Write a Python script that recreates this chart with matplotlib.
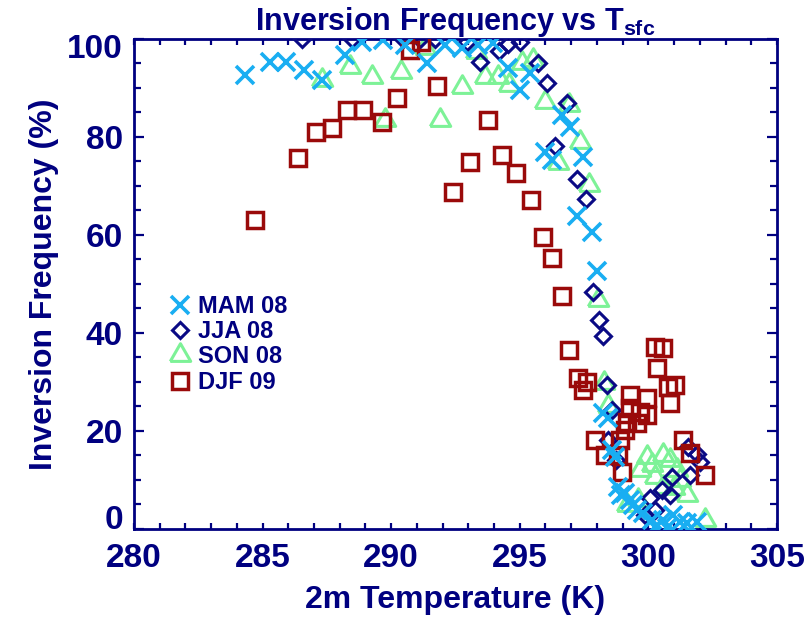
import matplotlib
matplotlib.use("Agg")
import matplotlib.pyplot as plt
import matplotlib.transforms as mtransforms
from matplotlib.ticker import MultipleLocator, FixedLocator

plt.rcParams['font.family'] = ['Liberation Sans', 'DejaVu Sans']
plt.rcParams['font.weight'] = 'bold'
plt.rcParams['axes.titleweight'] = 'bold'
plt.rcParams['axes.labelweight'] = 'bold'
plt.rcParams['mathtext.fontset'] = 'custom'
plt.rcParams['mathtext.rm'] = 'Liberation Sans:bold'
plt.rcParams['mathtext.bf'] = 'Liberation Sans:bold'

NAVY = '#000080'

# Seasonal inversion frequency (%) against 2 m temperature (K)
mam_t = [284.3, 285.3, 285.9, 286.6, 287.3, 288.2, 288.87, 289.68, 290.54, 291.4,
         292.1, 292.75, 293.37, 293.96, 294.54, 295.0, 295.4, 296.0, 296.25, 296.64,
         296.95, 297.46, 297.22, 297.8, 298.0, 298.24, 298.43, 298.59, 298.7, 298.82,
         298.94, 299.09, 299.28, 299.4, 299.56, 299.79, 300.14, 300.26, 300.57, 300.72,
         300.96, 301.23, 301.5, 301.89]
mam_f = [92.6, 95.3, 95.3, 93.7, 91.6, 96.7, 99.4, 99.8, 98.8, 95.1,
         98.8, 98.2, 98.8, 99.2, 94.1, 89.6, 93.1, 76.9, 75.3, 84.5,
         82.0, 75.9, 63.9, 60.6, 52.7, 23.7, 22.7, 16.1, 14.7, 8.6,
         6.9, 7.3, 5.9, 4.9, 3.9, 3.3, 1.8, 0.4, 1.8, 0.2,
         2.9, 1.4, 1.2, 1.4]

jja_t = [286.53, 288.48, 290.46, 291.12, 291.7, 292.95, 293.45, 294.2, 294.55, 295.0,
         295.7, 296.06, 296.84, 296.37, 297.22, 297.57, 297.85, 298.08, 298.24, 298.39,
         298.59, 298.43, 298.74, 299.87, 300.26, 300.06, 300.53, 300.84, 301.62, 301.54,
         301.89, 302.0, 300.92]
jja_f = [100.0, 100.0, 100.0, 100.0, 100.0, 99.4, 95.3, 97.6, 99.0, 99.4,
         95.1, 91.0, 86.9, 78.2, 71.4, 67.3, 48.4, 42.7, 39.4, 29.4,
         24.3, 18.2, 14.1, 2.9, 3.9, 6.3, 8.0, 6.9, 11.0, 16.7,
         15.3, 13.7, 10.6]

son_t = [287.3, 288.4, 289.25, 289.76, 290.4, 291.3, 291.9, 292.75, 293.3, 293.65,
         294.15, 294.6, 295.1, 295.5, 296.0, 296.5, 296.9, 297.34, 297.7, 298.04,
         298.27, 298.43, 299.95, 300.57, 300.14, 300.84, 301.11, 300.26, 300.57, 301.23,
         301.5, 302.2, 299.17, 299.6, 299.67, 301.0]
son_f = [91.6, 94.3, 92.2, 83.5, 93.3, 98.2, 83.5, 90.2, 97.3, 92.2,
         92.2, 90.6, 95.1, 95.7, 87.1, 74.7, 86.5, 79.0, 70.2, 46.7,
         29.8, 25.0, 14.7, 15.1, 13.1, 14.1, 12.0, 10.6, 8.6, 10.0,
         6.9, 1.8, 4.9, 5.9, 12.0, 8.4]

djf_t = [284.7, 286.38, 287.08, 287.7, 288.28, 288.9, 289.64, 290.23, 290.73, 291.15,
         291.8, 292.4, 293.06, 293.76, 294.3, 294.85, 295.44, 295.9, 296.25, 296.64,
         296.9, 297.26, 297.6, 297.46, 297.92, 298.31, 298.82, 298.97, 298.9, 299.09,
         299.17, 299.56, 299.28, 299.67, 299.95, 299.28, 299.95, 300.26, 300.57, 300.33,
         300.76, 301.03, 300.84, 301.35, 301.62, 302.2]
djf_f = [63.1, 75.7, 81.0, 81.8, 85.5, 85.5, 83.1, 88.0, 97.8, 99.4,
         90.4, 68.8, 74.9, 83.5, 76.3, 72.7, 67.1, 59.6, 55.3, 47.6,
         36.5, 30.8, 30.0, 28.4, 18.2, 15.1, 15.1, 11.6, 18.2, 20.2,
         21.8, 21.6, 24.7, 23.9, 23.3, 27.3, 26.7, 37.1, 36.9, 32.9,
         29.0, 29.4, 25.7, 18.2, 15.5, 11.0]

labels = ['MAM 08', 'JJA 08', 'SON 08', 'DJF 09']
colors = ['#19AEF2', '#0A0A85', '#7DF297', '#9A0A0A']

# equilateral triangle outline
tri = [(-1.0, -0.577), (1.0, -0.577), (0.0, 1.155), (-1.0, -0.577)]

fig = plt.figure(figsize=(8.08, 6.2), dpi=100)
ax = fig.add_axes([0.1658, 0.1468, 0.7958, 0.7903])

ax.plot(mam_t, mam_f, ls='none', marker='x', ms=12.5, mew=2.6,
        color=colors[0], label=labels[0], zorder=5)
ax.plot(jja_t, jja_f, ls='none', marker='D', ms=8.5, mew=2.2,
        mfc='none', color=colors[1], label=labels[1], zorder=3)
ax.plot(son_t, son_f, ls='none', marker=tri, ms=17, mew=2.2,
        mfc='none', color=colors[2], label=labels[2], zorder=2)
ax.plot(djf_t, djf_f, ls='none', marker='s', ms=11.5, mew=2.5,
        mfc='none', color=colors[3], label=labels[3], zorder=4)

ax.set_xlim(280, 305)
ax.set_ylim(0, 100)

ax.xaxis.set_major_locator(MultipleLocator(5))
ax.xaxis.set_minor_locator(MultipleLocator(1))
ax.yaxis.set_major_locator(FixedLocator([0, 20, 40, 60, 80, 100]))
ax.yaxis.set_minor_locator(MultipleLocator(5))

for s in ax.spines.values():
    s.set_color(NAVY)
    s.set_linewidth(2.0)

ax.tick_params(axis='both', which='both', direction='in', colors=NAVY,
               top=True, right=True, width=1.6, labelsize=24)
ax.tick_params(axis='x', which='both', length=4, pad=10)
ax.tick_params(axis='y', which='major', length=7, pad=8)
ax.tick_params(axis='y', which='minor', length=5)

# nudge the end labels of the y axis inside the frame
yticks = ax.yaxis.get_major_ticks()
yticks[0].label1.set_transform(yticks[0].label1.get_transform() +
                               mtransforms.ScaledTranslation(0, 12 / 100, fig.dpi_scale_trans))
yticks[-1].label1.set_transform(yticks[-1].label1.get_transform() +
                                mtransforms.ScaledTranslation(0, -7 / 100, fig.dpi_scale_trans))

ax.set_xlabel('2m Temperature (K)', fontsize=23, color=NAVY, labelpad=8)
ax.set_ylabel('Inversion Frequency (%)', fontsize=23, color=NAVY, labelpad=6)
ax.set_title(r'Inversion Frequency vs T$_{\mathrm{sfc}}$', fontsize=22,
             color=NAVY, pad=6)

ax.legend(loc='upper left', bbox_to_anchor=(0.057, 0.478), frameon=False,
          numpoints=1, handlelength=0.8, handletextpad=0.35, labelspacing=0.1,
          borderpad=0, borderaxespad=0, fontsize=17, labelcolor=NAVY)

fig.savefig('out.png', dpi=100)
